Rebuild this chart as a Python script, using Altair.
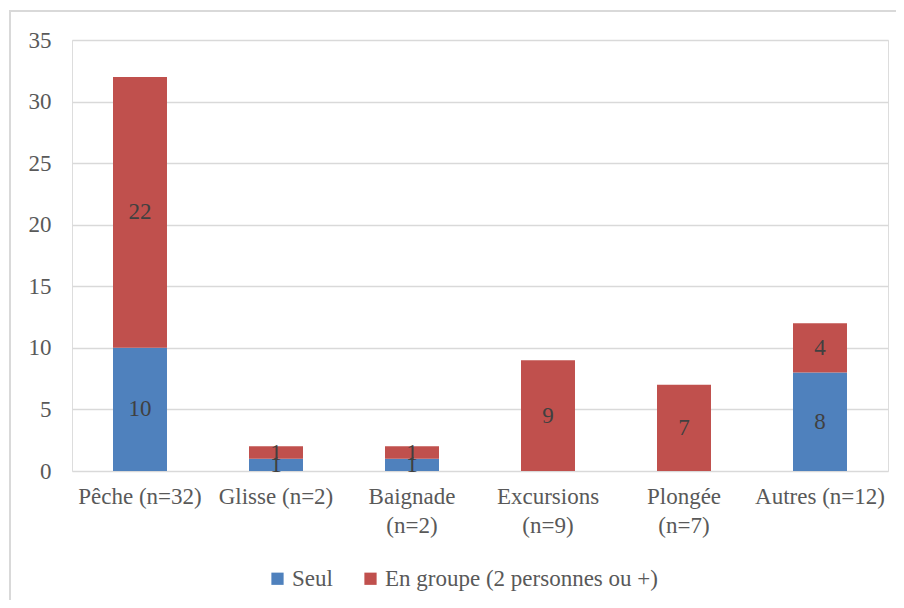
import altair as alt
import pandas as pd

categories = ["Pêche (n=32)", "Glisse (n=2)", "Baignade (n=2)", "Excursions (n=9)", "Plongée (n=7)", "Autres (n=12)"]
seul = [10, 1, 1, 0, 0, 8]
groupe = [22, 1, 1, 9, 7, 4]
series = ["Seul", "En groupe (2 personnes ou +)"]
colors = ["#4F81BD", "#C0504D"]
wrapped = ["Baignade (n=2)", "Excursions (n=9)", "Plongée (n=7)"]

rows = []
for c, s, g in zip(categories, seul, groupe):
    rows.append({"cat": c, "serie": series[0], "val": s, "ord": 0})
    rows.append({"cat": c, "serie": series[1], "val": g, "ord": 1})
df = pd.DataFrame(rows)

FONT = "Times New Roman, Liberation Serif, serif"
FS = 23
W, H = 816, 431

label_expr = "indexof(" + str(wrapped) + ", datum.value) >= 0 ? split(datum.value, ' ') : datum.value"

xenc = alt.X("cat:N", sort=categories, title=None,
             scale=alt.Scale(paddingInner=0.603, paddingOuter=0.3015),
             axis=alt.Axis(labelAngle=0, labelExpr=label_expr, domain=False, ticks=False,
                           labelPadding=14, labelLineHeight=29, labelFontSize=FS,
                           labelColor="#595959", labelFont=FONT, grid=False, labelLimit=300))

base = alt.Chart(df).transform_filter("datum.val > 0")

bars = base.mark_bar().encode(
    x=xenc,
    y=alt.Y("sum(val):Q", stack="zero", title=None,
            scale=alt.Scale(domain=[0, 35], nice=False),
            axis=alt.Axis(values=[0, 5, 10, 15, 20, 25, 30, 35], domain=False, ticks=False,
                          labelPadding=21, labelFontSize=FS, labelColor="#595959",
                          labelFont=FONT, gridColor="#d9d9d9", gridWidth=1.5)),
    color=alt.Color("serie:N", sort=series, scale=alt.Scale(domain=series, range=colors),
                    legend=alt.Legend(title=None, orient="none", direction="horizontal",
                                      legendX=194, legendY=527, symbolType="square",
                                      symbolSize=150, symbolStrokeWidth=0, labelFontSize=FS,
                                      labelFont=FONT, labelColor="#595959", columnPadding=26,
                                      labelOffset=3, padding=0, labelLimit=400)),
    order=alt.Order("ord:Q"),
)

texts = base.transform_stack(
    stack="val", groupby=["cat"], as_=["y0", "y1"], sort=[alt.SortField("ord")]
).transform_calculate(mid="(datum.y0 + datum.y1) / 2").mark_text(
    font=FONT, fontSize=FS, color="#404040", baseline="middle"
).encode(
    x=alt.X("cat:N", sort=categories),
    y=alt.Y("mid:Q"),
    text=alt.Text("val:Q"),
)

border = alt.Chart(df).mark_rect(fill=None, stroke="#d9d9d9", strokeWidth=1.5).encode(
    x=alt.value(-62), x2=alt.value(W + 40), y=alt.value(-29), y2=alt.value(H + 160)
)

chart = alt.layer(border, bars, texts).properties(
    width=W, height=H,
    autosize=alt.AutoSizeParams(type="none"),
    padding={"left": 64, "top": 32, "right": 8, "bottom": 129},
).configure_view(stroke=None).configure(background="white")

chart.save("out.html", embed_options={"renderer": "svg", "actions": False})
